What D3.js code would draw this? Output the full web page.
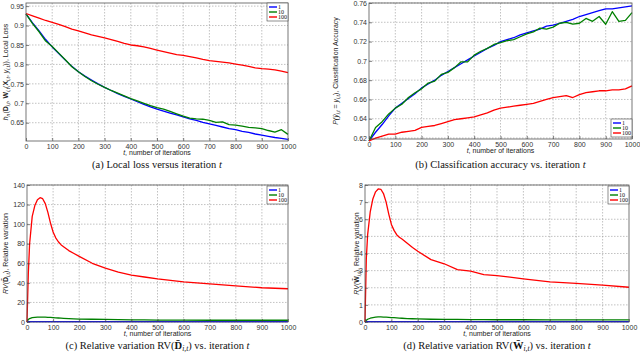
<!DOCTYPE html>
<html>
<head>
<meta charset="utf-8">
<script src="https://cdn.jsdelivr.net/npm/d3@7"></script>
<style>
  body { margin: 0; background: #fff; }
  svg { display: block; }
  .tick-lbl { font-family: "Liberation Sans", Arial, sans-serif; font-size: 7px; fill: #333; }
  .ax-lbl { font-family: "Liberation Sans", Arial, sans-serif; font-size: 7px; fill: #222; }
  .caption { font-family: "Liberation Serif", "Times New Roman", serif; font-size: 10.5px; fill: #111; }
  .leg { font-family: "Liberation Serif", serif; font-size: 6px; fill: #111; }
</style>
</head>
<body>
<svg id="chart" width="640" height="355"></svg>
<script>
// iterations used by panels (a) and (b)
const iterAB = d3.range(0, 1001, 25);

// (a) local loss
const lossBlue = [0.930, 0.907, 0.886, 0.864, 0.845, 0.828, 0.811, 0.795, 0.781, 0.770, 0.760, 0.750, 0.741, 0.733, 0.725, 0.718, 0.711, 0.704, 0.697, 0.691, 0.685, 0.680, 0.675, 0.670, 0.665, 0.660, 0.656, 0.651, 0.647, 0.643, 0.639, 0.635, 0.632, 0.628, 0.625, 0.621, 0.618, 0.615, 0.612, 0.610, 0.607];
const lossGreen = [0.930, 0.905, 0.884, 0.860, 0.846, 0.829, 0.812, 0.794, 0.781, 0.769, 0.758, 0.749, 0.741, 0.733, 0.726, 0.719, 0.712, 0.706, 0.700, 0.694, 0.689, 0.685, 0.679, 0.673, 0.667, 0.662, 0.660, 0.659, 0.656, 0.651, 0.652, 0.645, 0.644, 0.641, 0.638, 0.637, 0.635, 0.630, 0.626, 0.632, 0.620];
const lossRed = [0.931, 0.925, 0.919, 0.913, 0.908, 0.903, 0.897, 0.891, 0.886, 0.881, 0.876, 0.872, 0.868, 0.864, 0.859, 0.854, 0.850, 0.848, 0.845, 0.841, 0.837, 0.833, 0.829, 0.825, 0.823, 0.820, 0.817, 0.813, 0.810, 0.808, 0.806, 0.804, 0.801, 0.798, 0.795, 0.791, 0.789, 0.788, 0.786, 0.783, 0.779];

// (b) classification accuracy
const accBlue = [0.617, 0.626, 0.634, 0.643, 0.651, 0.656, 0.661, 0.666, 0.672, 0.676, 0.680, 0.685, 0.689, 0.693, 0.697, 0.701, 0.705, 0.709, 0.713, 0.716, 0.720, 0.722, 0.724, 0.727, 0.729, 0.731, 0.733, 0.736, 0.737, 0.739, 0.741, 0.743, 0.746, 0.748, 0.750, 0.752, 0.754, 0.754, 0.755, 0.756, 0.757];
const accGreen = [0.617, 0.631, 0.637, 0.645, 0.651, 0.655, 0.662, 0.667, 0.671, 0.677, 0.679, 0.686, 0.688, 0.693, 0.699, 0.699, 0.706, 0.710, 0.713, 0.717, 0.719, 0.721, 0.722, 0.725, 0.728, 0.730, 0.734, 0.733, 0.735, 0.739, 0.740, 0.738, 0.739, 0.744, 0.741, 0.746, 0.738, 0.751, 0.741, 0.742, 0.750];
const accRed = [0.617, 0.620, 0.622, 0.624, 0.624, 0.626, 0.627, 0.628, 0.631, 0.632, 0.633, 0.635, 0.637, 0.639, 0.640, 0.641, 0.642, 0.644, 0.646, 0.649, 0.651, 0.652, 0.653, 0.654, 0.655, 0.656, 0.658, 0.660, 0.662, 0.663, 0.664, 0.662, 0.665, 0.667, 0.668, 0.669, 0.669, 0.670, 0.670, 0.671, 0.674];

// iterations used by panels (c) and (d)
const iterCD = [0, 5, 10, 20, 30, 40, 50, 60, 70, 80, 90, 100, 110, 120, 130, 140, 160, 180, 200, 250, 300, 350, 400, 450, 500, 600, 700, 800, 900, 1000];

// (c) relative variation of D
const rvdBlue = [0, 0.3, 0.3, 0.3, 0.3, 0.3, 0.3, 0.3, 0.3, 0.3, 0.3, 0.3, 0.3, 0.3, 0.3, 0.3, 0.3, 0.3, 0.3, 0.3, 0.3, 0.3, 0.3, 0.3, 0.3, 0.3, 0.3, 0.3, 0.3, 0.3];
const rvdGreen = [0, 2.5, 3.5, 4.5, 4.8, 5, 5, 5, 5, 4.8, 4.7, 4.5, 4.3, 4.1, 3.9, 3.7, 3.4, 3.2, 3, 2.8, 2.6, 2.4, 2.2, 2.1, 2, 1.9, 1.8, 1.8, 1.8, 1.8];
const rvdRed = [0, 49, 80, 108, 119, 125, 127, 126, 121, 112, 101, 92, 86, 82, 79, 77, 73, 70, 67, 60, 55, 51, 48, 46, 44, 41, 39, 37, 35, 34];

// (d) relative variation of W
const rvwBlue = [0, 0.02, 0.02, 0.02, 0.02, 0.02, 0.02, 0.02, 0.02, 0.02, 0.02, 0.02, 0.02, 0.02, 0.02, 0.02, 0.02, 0.02, 0.02, 0.02, 0.02, 0.02, 0.02, 0.02, 0.02, 0.02, 0.02, 0.02, 0.02, 0.02];
const rvwGreen = [0, 0.1, 0.16, 0.22, 0.26, 0.28, 0.3, 0.3, 0.29, 0.28, 0.27, 0.26, 0.25, 0.24, 0.23, 0.22, 0.2, 0.19, 0.18, 0.16, 0.15, 0.15, 0.14, 0.14, 0.13, 0.13, 0.12, 0.12, 0.12, 0.12];
const rvwRed = [0, 3.7, 5.1, 6.45, 7.2, 7.6, 7.77, 7.75, 7.5, 7.0, 6.3, 5.7, 5.35, 5.1, 4.95, 4.85, 4.6, 4.35, 4.13, 3.64, 3.4, 3.06, 2.97, 2.77, 2.71, 2.52, 2.34, 2.25, 2.15, 2.03];

const seriesNames = ["1", "10", "100"];
const seriesColors = ["#0000ff", "#008000", "#ff0000"];
const xTicks = d3.range(0, 1001, 100);

const svg = d3.select("#chart");

// writes text pieces as tspans; pieces marked sub are shifted down and made smaller
function richText(sel, parts, subSize, shift) {
    let down = false;
    parts.forEach(p => {
        const ts = sel.append("tspan").text(p.s);
        if (p.i) ts.attr("font-style", "italic");
        if (p.b) ts.attr("font-weight", "bold");
        if (p.sub) {
            ts.attr("font-size", subSize);
            if (!down) { ts.attr("dy", shift); down = true; }
        } else if (down) {
            ts.attr("dy", -shift);
            down = false;
        }
    });
}

// draws one panel
function panel(opt) {
    const x = d3.scaleLinear().domain([0, 1000]).range([opt.left, opt.right]);
    const y = d3.scaleLinear().domain(opt.yDomain).range([opt.bottom, opt.top]);
    const g = svg.append("g");

    // gridlines
    g.append("g").selectAll("line").data(xTicks.filter(d => d > 0 && d < 1000)).join("line")
        .attr("x1", d => x(d)).attr("x2", d => x(d))
        .attr("y1", opt.top).attr("y2", opt.bottom)
        .attr("stroke", "#999").attr("stroke-width", 0.6).attr("stroke-dasharray", "1.5,1.5");
    g.append("g").selectAll("line").data(opt.yTicks).join("line")
        .attr("x1", opt.left).attr("x2", opt.right)
        .attr("y1", d => y(d)).attr("y2", d => y(d))
        .attr("stroke", "#999").attr("stroke-width", 0.6).attr("stroke-dasharray", "1.5,1.5");

    // curves
    const line = d3.line().x((d, i) => x(opt.t[i])).y(d => y(d));
    opt.series.forEach((s, i) => {
        g.append("path")
            .datum(s)
            .attr("fill", "none")
            .attr("stroke", seriesColors[i])
            .attr("stroke-width", 1.3)
            .attr("stroke-linejoin", "round")
            .attr("d", line);
    });

    // axes
    const xAxis = g.append("g")
        .attr("transform", `translate(0,${opt.bottom})`)
        .call(d3.axisBottom(x).tickValues(xTicks).tickSize(-3).tickPadding(3).tickFormat(d3.format("d")));
    const yAxis = g.append("g")
        .attr("transform", `translate(${opt.left},0)`)
        .call(d3.axisLeft(y).tickValues(opt.yTicks).tickSize(-3).tickPadding(2).tickFormat(d3.format("~g")));
    [xAxis, yAxis].forEach(a => {
        a.select(".domain").remove();
        a.selectAll("line").attr("stroke", "#333").attr("stroke-width", 0.6);
        a.selectAll("text").attr("class", "tick-lbl").attr("fill", null);
        a.attr("font-size", null).attr("font-family", null);
    });

    // frame
    g.append("rect")
        .attr("x", opt.left).attr("y", opt.top)
        .attr("width", opt.right - opt.left).attr("height", opt.bottom - opt.top)
        .attr("fill", "none").attr("stroke", "#555").attr("stroke-width", 0.8);

    // legend
    const lg = g.append("g").attr("transform", `translate(${opt.right - 21},${opt.legendTop})`);
    lg.append("rect").attr("width", 21).attr("height", 18)
        .attr("fill", "#fff").attr("stroke", "#444").attr("stroke-width", 0.6);
    seriesNames.forEach((n, i) => {
        lg.append("line")
            .attr("x1", 2).attr("x2", 10)
            .attr("y1", 4 + i * 5).attr("y2", 4 + i * 5)
            .attr("stroke", seriesColors[i]).attr("stroke-width", 1.4);
        lg.append("text").attr("class", "leg")
            .attr("x", 11).attr("y", 6 + i * 5).text(n);
    });

    // x label
    const xl = g.append("text").attr("class", "ax-lbl")
        .attr("x", (opt.left + opt.right) / 2).attr("y", opt.bottom + 14)
        .attr("text-anchor", "middle");
    richText(xl, [{s: "t", i: 1}, {s: ", number of iterations"}], "5px", 1.5);

    // y label
    const yl = g.append("text").attr("class", "ax-lbl")
        .attr("transform", `translate(${opt.yLabelX},${(opt.top + opt.bottom) / 2}) rotate(-90)`)
        .attr("text-anchor", "middle");
    richText(yl, opt.yLabel, "5px", 1.5);

    // caption
    const cap = g.append("text").attr("class", "caption")
        .attr("x", (opt.left + opt.right) / 2).attr("y", opt.captionY)
        .attr("text-anchor", "middle");
    richText(cap, opt.caption, "7.5px", 2);
}

panel({
    left: 26, right: 288, top: 3, bottom: 141,
    yDomain: [0.603, 0.958], yTicks: [0.65, 0.7, 0.75, 0.8, 0.85, 0.9, 0.95],
    t: iterAB, series: [lossBlue, lossGreen, lossRed],
    legendTop: 3, yLabelX: 8, captionY: 168,
    yLabel: [{s: "h", i: 1}, {s: "n", i: 1, sub: 1}, {s: "("}, {s: "D", b: 1}, {s: "i,t", i: 1, sub: 1},
             {s: ", "}, {s: "W", b: 1}, {s: "i,t", i: 1, sub: 1}, {s: "("}, {s: "X", b: 1},
             {s: "i,t", i: 1, sub: 1}, {s: ", "}, {s: "y", i: 1}, {s: "i,t", i: 1, sub: 1},
             {s: ")), Local Loss"}],
    caption: [{s: "(a) Local loss versus iteration "}, {s: "t", i: 1}]
});

panel({
    left: 369, right: 632, top: 3, bottom: 139,
    yDomain: [0.619, 0.76], yTicks: [0.62, 0.64, 0.66, 0.68, 0.7, 0.72, 0.74, 0.76],
    t: iterAB, series: [accBlue, accGreen, accRed],
    legendTop: 119, yLabelX: 338, captionY: 168,
    yLabel: [{s: "P", i: 1}, {s: "(ŷ", i: 1}, {s: "i,t", i: 1, sub: 1}, {s: " = "}, {s: "y", i: 1},
             {s: "i,t", i: 1, sub: 1}, {s: "), Classification Accuracy"}],
    caption: [{s: "(b) Classification accuracy vs. iteration "}, {s: "t", i: 1}]
});

panel({
    left: 27, right: 288, top: 185, bottom: 322,
    yDomain: [0, 140], yTicks: d3.range(0, 141, 20),
    t: iterCD, series: [rvdBlue, rvdGreen, rvdRed],
    legendTop: 186, yLabelX: 8, captionY: 349,
    yLabel: [{s: "RV", i: 1}, {s: "("}, {s: "D̄", b: 1}, {s: "i,t", i: 1, sub: 1}, {s: "), Relative variation"}],
    caption: [{s: "(c) Relative variation RV("}, {s: "D̄", b: 1}, {s: "i,t", i: 1, sub: 1}, {s: ") vs. iteration "}, {s: "t", i: 1}]
});

panel({
    left: 365, right: 629, top: 185, bottom: 322,
    yDomain: [0, 8], yTicks: d3.range(0, 9, 1),
    t: iterCD, series: [rvwBlue, rvwGreen, rvwRed],
    legendTop: 186, yLabelX: 359, captionY: 349,
    yLabel: [{s: "RV", i: 1}, {s: "("}, {s: "W̄", b: 1}, {s: "i,t", i: 1, sub: 1}, {s: "), Relative variation"}],
    caption: [{s: "(d) Relative variation RV("}, {s: "W̄", b: 1}, {s: "i,t", i: 1, sub: 1}, {s: ") vs. iteration "}, {s: "t", i: 1}]
});
</script>
</body>
</html>
